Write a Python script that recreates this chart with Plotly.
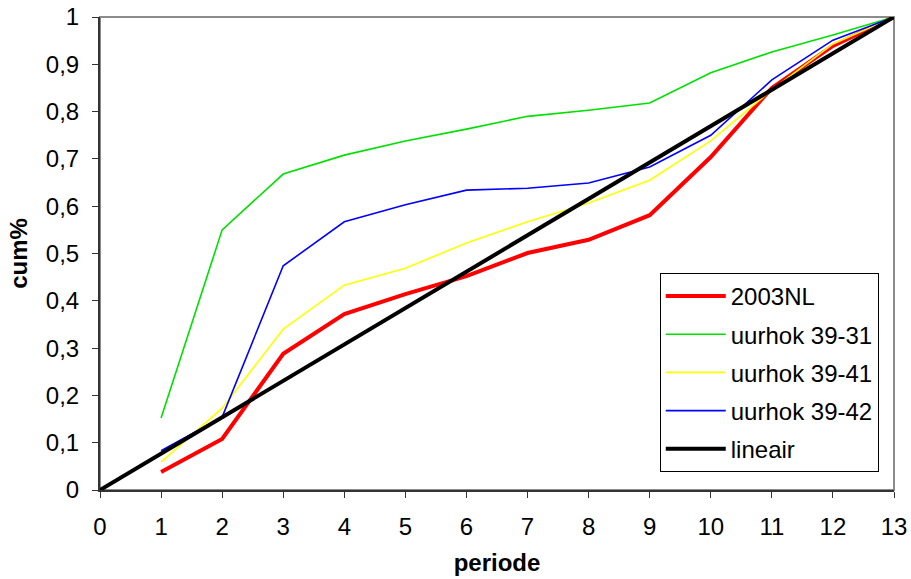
import plotly.graph_objects as go

periods = list(range(0, 14))
series_x = list(range(1, 14))

nl2003 = [0.038, 0.108, 0.288, 0.372, 0.414, 0.452, 0.501, 0.529, 0.581, 0.704, 0.850, 0.939, 1.0]
uurhok_39_31 = [0.152, 0.550, 0.668, 0.708, 0.738, 0.763, 0.790, 0.803, 0.818, 0.882, 0.926, 0.962, 1.0]
uurhok_39_41 = [0.059, 0.173, 0.340, 0.433, 0.469, 0.522, 0.567, 0.607, 0.655, 0.738, 0.846, 0.943, 1.0]
uurhok_39_42 = [0.083, 0.154, 0.474, 0.567, 0.603, 0.634, 0.638, 0.649, 0.683, 0.750, 0.867, 0.951, 1.0]
lineair_x = [0, 13]
lineair_y = [0, 1]

y_ticks = [i / 10 for i in range(11)]
y_ticktext = ["0", "0,1", "0,2", "0,3", "0,4", "0,5", "0,6", "0,7", "0,8", "0,9", "1"]

FONT = "Liberation Sans, Arial, sans-serif"

fig = go.Figure()
traces = [
    ("2003NL", series_x, nl2003, "#ff0000", 4),
    ("uurhok 39-31", series_x, uurhok_39_31, "#00e000", 1.6),
    ("uurhok 39-41", series_x, uurhok_39_41, "#ffff00", 1.6),
    ("uurhok 39-42", series_x, uurhok_39_42, "#0000ff", 1.6),
    ("lineair", lineair_x, lineair_y, "#000000", 4),
]
for i, (name, xs, ys, color, w) in enumerate(traces):
    fig.add_trace(go.Scatter(
        x=xs, y=ys, name=name, mode="lines",
        line=dict(color=color, width=w),
        legendgroup=f"g{i}",
    ))

# plot-area frame (top/right edges in grey)
fig.add_shape(type="rect", xref="paper", yref="paper", x0=0, y0=0, x1=1, y1=1,
              line=dict(color="#8c8c8c", width=2), layer="below")

fig.update_layout(
    width=911, height=579,
    margin=dict(l=100, r=17, t=17, b=89),
    paper_bgcolor="white", plot_bgcolor="white",
    separators=",.",
    font=dict(family=FONT, size=24, color="black"),
    showlegend=True,
    legend=dict(
        x=0.705, y=0.459, xanchor="left", yanchor="top",
        bordercolor="black", borderwidth=1, bgcolor="white",
        font=dict(family=FONT, size=24, color="black"),
        tracegroupgap=4, itemwidth=60,
    ),
    xaxis=dict(
        range=[0, 13], tickmode="array", tickvals=periods,
        ticks="outside", ticklen=6, tickcolor="#333", tickwidth=1,
        showline=True, linecolor="#333", linewidth=2,
        showgrid=False, zeroline=False, automargin=False,
        tickfont=dict(size=24), ticklabelstandoff=8,
        title=dict(text="<b>periode</b>", font=dict(size=24), standoff=15),
    ),
    yaxis=dict(
        range=[0, 1], tickmode="array",
        tickvals=y_ticks, ticktext=y_ticktext,
        ticks="outside", ticklen=6, tickcolor="#333", tickwidth=1,
        showline=True, linecolor="#333", linewidth=2,
        showgrid=False, zeroline=False, automargin=False,
        tickfont=dict(size=24), ticklabelstandoff=8,
        title=dict(text="<b>cum%</b>", font=dict(size=24), standoff=11),
    ),
)

fig.write_html("out.html")
